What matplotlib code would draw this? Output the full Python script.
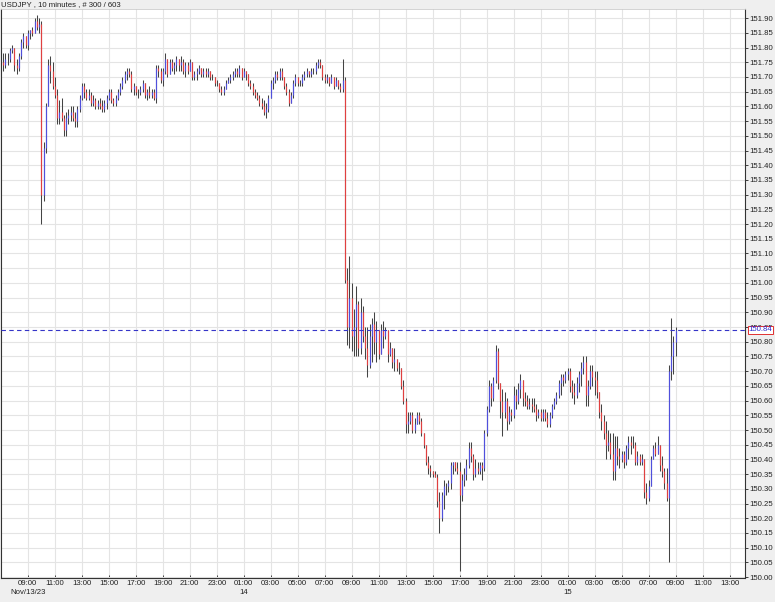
import matplotlib
matplotlib.use("Agg")
import matplotlib.pyplot as plt
import numpy as np

# ---------------- data (10-minute USDJPY bars) ----------------
first_open = 151.75
highs = [
    151.78, 151.78, 151.78, 151.80, 151.81, 151.80, 151.76, 151.78, 151.83, 151.85,
    151.84, 151.86, 151.86, 151.87, 151.90, 151.91, 151.90, 151.89, 151.48, 151.61,
    151.76, 151.77, 151.75, 151.70, 151.66, 151.62, 151.63, 151.57, 151.58, 151.59,
    151.60, 151.60, 151.58, 151.60, 151.64, 151.68, 151.68, 151.66, 151.66, 151.65,
    151.64, 151.63, 151.62, 151.63, 151.62, 151.62, 151.64, 151.66, 151.66, 151.63,
    151.64, 151.66, 151.68, 151.70, 151.72, 151.73, 151.73, 151.72, 151.68, 151.67,
    151.66, 151.67, 151.69, 151.68, 151.66, 151.67, 151.66, 151.66, 151.74, 151.74,
    151.73, 151.73, 151.78, 151.76, 151.76, 151.76, 151.75, 151.77, 151.76, 151.77,
    151.76, 151.75, 151.75, 151.76, 151.73, 151.72, 151.73, 151.74, 151.72, 151.73,
    151.73, 151.73, 151.72, 151.71, 151.70, 151.69, 151.68, 151.67, 151.67, 151.69,
    151.70, 151.71, 151.72, 151.73, 151.73, 151.74, 151.73, 151.73, 151.72, 151.70,
    151.69, 151.68, 151.66, 151.65, 151.64, 151.63, 151.62, 151.61, 151.64, 151.69,
    151.70, 151.72, 151.72, 151.73, 151.73, 151.70, 151.68, 151.66, 151.65, 151.69,
    151.71, 151.70, 151.69, 151.71, 151.72, 151.73, 151.72, 151.73, 151.73, 151.75,
    151.76, 151.76, 151.72, 151.71, 151.71, 151.70, 151.71, 151.70, 151.70, 151.69,
    151.68, 151.76, 151.70, 151.05, 151.09, 151.00, 150.91, 150.99, 150.94, 150.95,
    150.92, 150.85, 150.85, 150.86, 150.88, 150.90, 150.87, 150.84, 150.86, 150.87,
    150.85, 150.84, 150.80, 150.78, 150.78, 150.74, 150.73, 150.71, 150.67, 150.61,
    150.56, 150.56, 150.56, 150.54, 150.56, 150.56, 150.54, 150.49, 150.45, 150.41,
    150.38, 150.36, 150.36, 150.35, 150.29, 150.29, 150.33, 150.32, 150.33, 150.39,
    150.39, 150.39, 150.39, 150.39, 150.35, 150.37, 150.40, 150.46, 150.46, 150.42,
    150.40, 150.39, 150.39, 150.39, 150.50, 150.58, 150.67, 150.66, 150.68, 150.79,
    150.78, 150.66, 150.64, 150.63, 150.61, 150.58, 150.57, 150.65, 150.64, 150.66,
    150.69, 150.67, 150.63, 150.62, 150.61, 150.61, 150.61, 150.59, 150.57, 150.57,
    150.57, 150.57, 150.56, 150.56, 150.59, 150.61, 150.63, 150.67, 150.69, 150.69,
    150.70, 150.71, 150.71, 150.67, 150.66, 150.68, 150.70, 150.73, 150.75, 150.75,
    150.67, 150.72, 150.72, 150.70, 150.70, 150.63, 150.59, 150.55, 150.53, 150.50,
    150.49, 150.49, 150.48, 150.48, 150.44, 150.43, 150.43, 150.45, 150.48, 150.48,
    150.48, 150.46, 150.43, 150.42, 150.42, 150.40, 150.32, 150.33, 150.41, 150.45,
    150.46, 150.48, 150.45, 150.41, 150.37, 150.37, 150.72, 150.88, 150.82, 150.85,
]
lows = [
    151.72, 151.73, 151.74, 151.75, 151.78, 151.72, 151.71, 151.72, 151.76, 151.80,
    151.80, 151.79, 151.83, 151.84, 151.85, 151.86, 151.85, 151.20, 151.28, 151.44,
    151.60, 151.68, 151.66, 151.63, 151.54, 151.54, 151.55, 151.50, 151.50, 151.54,
    151.55, 151.55, 151.53, 151.53, 151.58, 151.62, 151.63, 151.62, 151.62, 151.60,
    151.60, 151.59, 151.59, 151.59, 151.58, 151.58, 151.59, 151.62, 151.61, 151.60,
    151.60, 151.62, 151.64, 151.66, 151.68, 151.69, 151.70, 151.65, 151.64, 151.64,
    151.63, 151.64, 151.65, 151.63, 151.62, 151.63, 151.63, 151.62, 151.61, 151.70,
    151.68, 151.67, 151.71, 151.70, 151.71, 151.72, 151.71, 151.72, 151.72, 151.72,
    151.71, 151.70, 151.71, 151.72, 151.69, 151.69, 151.69, 151.71, 151.70, 151.70,
    151.70, 151.70, 151.69, 151.69, 151.67, 151.67, 151.65, 151.64, 151.64, 151.66,
    151.68, 151.68, 151.69, 151.70, 151.70, 151.70, 151.69, 151.70, 151.69, 151.67,
    151.66, 151.64, 151.63, 151.62, 151.60, 151.59, 151.57, 151.56, 151.58, 151.63,
    151.66, 151.68, 151.69, 151.69, 151.69, 151.66, 151.64, 151.60, 151.61, 151.63,
    151.67, 151.67, 151.67, 151.67, 151.69, 151.70, 151.70, 151.70, 151.71, 151.71,
    151.73, 151.73, 151.69, 151.68, 151.68, 151.67, 151.68, 151.66, 151.67, 151.66,
    151.65, 151.65, 151.00, 150.79, 150.78, 150.77, 150.75, 150.75, 150.75, 150.76,
    150.80, 150.74, 150.68, 150.71, 150.73, 150.76, 150.73, 150.74, 150.76, 150.78,
    150.81, 150.73, 150.75, 150.71, 150.70, 150.70, 150.69, 150.64, 150.59, 150.49,
    150.49, 150.52, 150.49, 150.49, 150.52, 150.52, 150.48, 150.44, 150.38, 150.35,
    150.34, 150.34, 150.34, 150.24, 150.15, 150.19, 150.23, 150.28, 150.29, 150.30,
    150.35, 150.36, 150.35, 150.02, 150.26, 150.31, 150.33, 150.37, 150.39, 150.33,
    150.34, 150.35, 150.35, 150.33, 150.36, 150.48, 150.56, 150.58, 150.60, 150.66,
    150.64, 150.54, 150.48, 150.54, 150.50, 150.52, 150.53, 150.54, 150.57, 150.59,
    150.61, 150.58, 150.58, 150.57, 150.57, 150.56, 150.56, 150.53, 150.54, 150.53,
    150.53, 150.53, 150.51, 150.51, 150.54, 150.57, 150.59, 150.61, 150.62, 150.65,
    150.66, 150.67, 150.63, 150.61, 150.59, 150.61, 150.63, 150.65, 150.69, 150.58,
    150.58, 150.64, 150.65, 150.62, 150.61, 150.54, 150.50, 150.47, 150.40, 150.43,
    150.40, 150.33, 150.33, 150.38, 150.37, 150.39, 150.37, 150.38, 150.40, 150.42,
    150.44, 150.38, 150.38, 150.38, 150.38, 150.27, 150.25, 150.26, 150.31, 150.40,
    150.41, 150.42, 150.36, 150.34, 150.30, 150.26, 150.05, 150.67, 150.69, 150.75,
]
closes = [
    151.74, 151.76, 151.76, 151.79, 151.80, 151.74, 151.73, 151.77, 151.82, 151.84,
    151.81, 151.85, 151.86, 151.85, 151.89, 151.87, 151.88, 151.30, 151.46, 151.60,
    151.74, 151.72, 151.67, 151.64, 151.56, 151.58, 151.56, 151.52, 151.56, 151.57,
    151.58, 151.56, 151.55, 151.59, 151.63, 151.67, 151.65, 151.63, 151.64, 151.61,
    151.62, 151.60, 151.61, 151.60, 151.59, 151.61, 151.63, 151.65, 151.62, 151.61,
    151.63, 151.65, 151.67, 151.69, 151.71, 151.72, 151.71, 151.66, 151.67, 151.65,
    151.65, 151.66, 151.68, 151.64, 151.65, 151.64, 151.65, 151.63, 151.73, 151.72,
    151.69, 151.72, 151.76, 151.71, 151.75, 151.73, 151.74, 151.76, 151.74, 151.75,
    151.72, 151.74, 151.72, 151.75, 151.70, 151.71, 151.72, 151.73, 151.71, 151.72,
    151.71, 151.72, 151.70, 151.70, 151.68, 151.68, 151.66, 151.65, 151.66, 151.68,
    151.69, 151.70, 151.71, 151.72, 151.71, 151.73, 151.70, 151.72, 151.71, 151.68,
    151.67, 151.65, 151.64, 151.63, 151.61, 151.60, 151.58, 151.59, 151.63, 151.68,
    151.69, 151.71, 151.70, 151.72, 151.70, 151.67, 151.65, 151.61, 151.64, 151.68,
    151.70, 151.68, 151.68, 151.70, 151.71, 151.72, 151.71, 151.72, 151.72, 151.74,
    151.75, 151.74, 151.70, 151.69, 151.70, 151.68, 151.70, 151.67, 151.69, 151.67,
    151.66, 151.69, 151.01, 150.85, 150.95, 150.82, 150.85, 150.93, 150.78, 150.90,
    150.82, 150.78, 150.72, 150.82, 150.86, 150.80, 150.84, 150.76, 150.84, 150.82,
    150.84, 150.76, 150.78, 150.73, 150.74, 150.71, 150.71, 150.65, 150.60, 150.52,
    150.53, 150.55, 150.50, 150.52, 150.55, 150.53, 150.49, 150.45, 150.39, 150.37,
    150.36, 150.35, 150.34, 150.26, 150.20, 150.28, 150.31, 150.31, 150.32, 150.38,
    150.39, 150.37, 150.36, 150.28, 150.33, 150.35, 150.38, 150.44, 150.41, 150.35,
    150.37, 150.36, 150.38, 150.37, 150.49, 150.57, 150.65, 150.61, 150.67, 150.77,
    150.66, 150.60, 150.56, 150.60, 150.53, 150.56, 150.55, 150.62, 150.60, 150.64,
    150.67, 150.61, 150.60, 150.58, 150.59, 150.58, 150.57, 150.55, 150.56, 150.54,
    150.56, 150.54, 150.52, 150.55, 150.58, 150.60, 150.62, 150.66, 150.68, 150.67,
    150.69, 150.70, 150.65, 150.63, 150.62, 150.66, 150.69, 150.71, 150.73, 150.62,
    150.65, 150.70, 150.68, 150.67, 150.63, 150.56, 150.53, 150.49, 150.45, 150.46,
    150.42, 150.36, 150.44, 150.41, 150.40, 150.42, 150.39, 150.44, 150.46, 150.45,
    150.45, 150.39, 150.41, 150.39, 150.40, 150.29, 150.27, 150.31, 150.40, 150.44,
    150.42, 150.45, 150.38, 150.36, 150.32, 150.27, 150.70, 150.75, 150.80, 150.84,
]
last_price = 150.84

time_labels = ["09:00", "11:00", "13:00", "15:00", "17:00", "19:00", "21:00", "23:00",
               "01:00", "03:00", "05:00", "07:00", "09:00", "11:00", "13:00", "15:00",
               "17:00", "19:00", "21:00", "23:00", "01:00", "03:00", "05:00", "07:00",
               "09:00", "11:00", "13:00"]
date_labels = {0: "Nov/13/23", 8: "14", 20: "15"}
first_tick_bar = 11      # 09:00 bar index (bars start 07:10)
bars_per_tick = 12       # 2 hours of 10-minute bars
title = "USDJPY , 10 minutes , # 300 / 603"

# ---------------- figure ----------------
W, H, DPI = 775, 602, 100
plt.rcParams["font.family"] = ["Liberation Sans", "DejaVu Sans"]
fig = plt.figure(figsize=(W / DPI, H / DPI), dpi=DPI, facecolor="#efefef")

left_px, right_px, top_px, bottom_px = 1, 745, 9, 578
ax = fig.add_axes([left_px / W, 1 - bottom_px / H,
                   (right_px - left_px) / W, (bottom_px - top_px) / H])
ax.set_facecolor("white")

n = len(closes)
x = np.arange(n)
opens = np.array([first_open] + closes[:-1])
c = np.array(closes)
h = np.array(highs)
l = np.array(lows)
top = np.maximum.reduce([h, opens, c])
bot = np.minimum.reduce([l, opens, c])

ax.vlines(x, bot, top, colors="#444444", linewidth=0.75, zorder=3)
up = c >= opens
ax.vlines(x[up], opens[up], c[up], colors="#5050dc", linewidth=0.85, zorder=4)
ax.vlines(x[~up], c[~up], opens[~up], colors="#e04040", linewidth=0.85, zorder=4)

ax.set_ylim(149.997, 151.931)
ax.set_xlim(-0.9, 329.8)

yt = np.round(np.arange(150.00, 151.901, 0.05), 2)
ax.set_yticks(yt)
ax.set_yticklabels([f"{v:.2f}" for v in yt])
xt = [first_tick_bar + bars_per_tick * k for k in range(len(time_labels))]
ax.set_xticks(xt)
ax.set_xticklabels(time_labels)
ax.grid(True, color="#e4e4e4", linewidth=0.8, zorder=0)
ax.set_axisbelow(True)

ax.yaxis.tick_right()
ax.tick_params(axis="y", which="both", direction="out", length=2.5, width=0.6,
               labelsize=5.6, pad=0.8, colors="#222222")
ax.tick_params(axis="x", direction="in", length=2.5, width=0.6,
               labelsize=5.6, pad=1.2, colors="#222222")
for lab in ax.get_yticklabels():
    lab.set_horizontalalignment("left")

for side in ["left", "bottom", "right"]:
    ax.spines[side].set_color("#333333")
    ax.spines[side].set_linewidth(0.8)
ax.spines["top"].set_color("#cccccc")
ax.spines["top"].set_linewidth(0.6)

# date labels (second row)
for k, txt in date_labels.items():
    ax.annotate(txt, xy=(xt[k], 0), xycoords=("data", "axes fraction"),
                xytext=(0, -10.4), textcoords="offset points",
                ha="center", va="center", fontsize=5.6, color="#222222")

# last price line + label
ax.axhline(last_price, color="#3535c8", linewidth=0.8, linestyle=(0, (4, 3)), zorder=5)
ax.annotate(f"{last_price:.2f}", xy=(1, last_price), xycoords=("axes fraction", "data"),
            xytext=(2.6, 0), textcoords="offset points", ha="left", va="center",
            fontsize=5.6, color="#2a2ad0", zorder=6, annotation_clip=False,
            bbox=dict(boxstyle="square,pad=0.12", fc="white", ec="#e03030", lw=0.7))

fig.text(1 / W, 1 - 4.5 / H, title, ha="left", va="center", fontsize=5.6, color="#222222")

fig.savefig("out.png", dpi=DPI, facecolor=fig.get_facecolor())
